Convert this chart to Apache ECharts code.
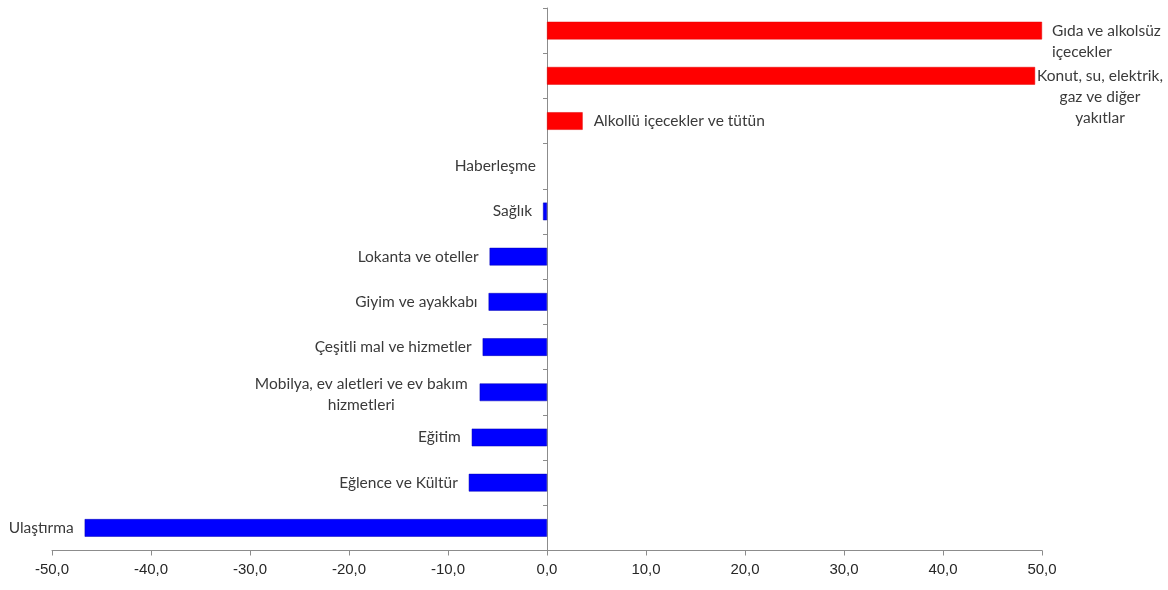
<!DOCTYPE html>
<html>
<head>
<meta charset="utf-8">
<script src="https://cdn.jsdelivr.net/npm/echarts@6/dist/echarts.min.js"></script>
<style>html,body{margin:0;padding:0;background:#fff;}#c{width:1168px;height:590px;}</style>
</head>
<body>
<div id="c"></div>
<script>
var categories = [
  'Gıda ve alkolsüz\niçecekler',
  'Konut, su, elektrik,\ngaz ve diğer\nyakıtlar',
  'Alkollü içecekler ve tütün',
  'Haberleşme',
  'Sağlık',
  'Lokanta ve oteller',
  'Giyim ve ayakkabı',
  'Çeşitli mal ve hizmetler',
  'Mobilya, ev aletleri ve ev bakım\nhizmetleri',
  'Eğitim',
  'Eğlence ve Kültür',
  'Ulaştırma'
];
var values = [50.0, 49.3, 3.6, 0.0, -0.4, -5.8, -5.9, -6.5, -6.8, -7.6, -7.9, -46.7];
var axisMin = -50, axisMax = 50, axisStep = 10;

var labelFont = 'Lato, "Open Sans", sans-serif';
var labelSize = 15.5;
var labelColor = '#3a3a3a';
var labelOverrides = {
  0: {distance: 10, offset: [0, 11], cls: 'l'},
  1: {distance: 2, offset: [0, 21], cls: 'c'},
  8: {distance: 12, offset: [0, 2], cls: 'c'}
};

var data = values.map(function (v, i) {
  var ov = labelOverrides[i] || {};
  var cls = ov.cls || 'c';
  var lines = categories[i].split('\n').map(function (s) { return '{' + cls + '|' + s + '}'; }).join('\n');
  return {
    value: v,
    itemStyle: v > 0 ? {color: '#ff0000', borderColor: '#e00000', borderWidth: 0.5}
             : v < 0 ? {color: '#0000ff', borderColor: '#0000b0', borderWidth: 0.5}
             : {color: 'rgba(0,0,0,0)', borderWidth: 0},
    label: {
      show: true,
      position: v > 0 ? 'right' : 'left',
      distance: ov.distance != null ? ov.distance : 11,
      offset: ov.offset || [0, 0],
      formatter: lines
    }
  };
});

var chart = echarts.init(document.getElementById('c'));
chart.setOption({
  animation: false,
  grid: {left: 52, right: 126, top: 8, bottom: 39.5, containLabel: false},
  xAxis: {
    type: 'value', min: axisMin, max: axisMax, interval: axisStep,
    splitLine: {show: false},
    axisLine: {show: true, lineStyle: {color: '#8c8c8c', width: 1}},
    axisTick: {show: true, length: 5, lineStyle: {color: '#8c8c8c'}},
    axisLabel: {
      color: '#262626', fontFamily: '"Liberation Sans", Arial, sans-serif', fontSize: 15, margin: 12,
      formatter: function (v) { return v.toFixed(1).replace('.', ','); }
    }
  },
  yAxis: {
    type: 'category', data: categories, inverse: true,
    axisLine: {show: true, onZero: true, lineStyle: {color: '#8c8c8c', width: 1}},
    axisTick: {show: true, length: 4, lineStyle: {color: '#8c8c8c'}},
    axisLabel: {show: false}
  },
  series: [{
    type: 'bar',
    data: data,
    barWidth: '39%',
    label: {
      color: labelColor, fontFamily: labelFont, fontSize: labelSize, lineHeight: 21,
      rich: {
        c: {align: 'center', color: labelColor, fontFamily: labelFont, fontSize: labelSize, lineHeight: 21},
        l: {align: 'left', color: labelColor, fontFamily: labelFont, fontSize: labelSize, lineHeight: 21}
      }
    }
  }]
});
</script>
</body>
</html>
